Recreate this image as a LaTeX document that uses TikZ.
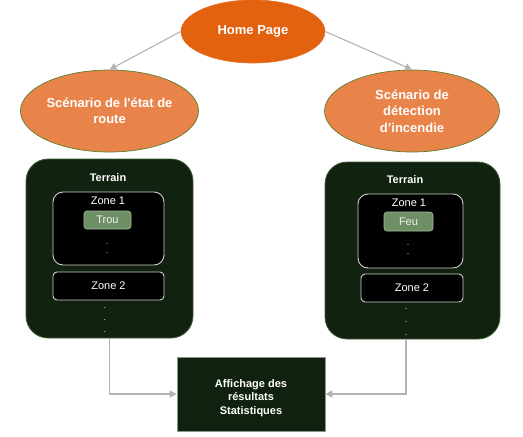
\documentclass[tikz,border=0pt]{standalone}
\usepackage{fontspec}
\setmainfont{Liberation Sans}
\usetikzlibrary{shapes.geometric,arrows.meta}
\definecolor{homeor}{HTML}{E2620F}
\definecolor{sideor}{HTML}{E8834A}
\definecolor{sideborder}{HTML}{5E7F2E}
\definecolor{terrfill}{HTML}{112211}
\definecolor{terrborder}{HTML}{3F6030}
\definecolor{zoneborder}{HTML}{CFCFCF}
\definecolor{tagfill}{HTML}{6E8F65}
\definecolor{tagborder}{HTML}{A3BB9B}
\definecolor{tagtext}{HTML}{EEF3EC}
\definecolor{linkgrey}{HTML}{B3B3B3}
\definecolor{resfill}{HTML}{10220F}
\definecolor{resborder}{HTML}{8A968A}
\tikzset{
  homeshape/.style={ellipse, fill=homeor, draw=homeor!90!white, line width=0.6pt, inner sep=0pt,
    minimum width=144pt, minimum height=63pt, text=white, font=\fontsize{13}{16}\selectfont\bfseries},
  sideshape/.style={ellipse, fill=sideor, draw=sideborder, line width=0.7pt, inner sep=0pt,
    minimum width=175pt, minimum height=82pt, text=white, align=center,
    font=\fontsize{13}{16.5}\selectfont\bfseries},
  terrbox/.style={rectangle, rounded corners=22pt, fill=terrfill, draw=terrborder, line width=0.8pt, inner sep=0pt},
  zonebox/.style={rectangle, fill=black, draw=zoneborder, line width=0.9pt, inner sep=0pt, text=white,
    font=\fontsize{11}{12}\selectfont},
  tagbox/.style={rectangle, rounded corners=3pt, fill=tagfill, draw=tagborder, line width=0.6pt, inner sep=0pt,
    text=tagtext, font=\fontsize{11}{12}\selectfont},
  terrlabel/.style={text=white, font=\fontsize{11}{13}\selectfont\bfseries, inner sep=0pt},
  zonelabel/.style={text=white, font=\fontsize{11}{12}\selectfont, inner sep=0pt},
  dotmark/.style={text=white!85!black, font=\fontsize{9}{9}\selectfont, inner sep=0pt, anchor=base},
  resbox/.style={rectangle, fill=resfill, draw=resborder, line width=0.7pt, inner sep=0pt},
  restext/.style={text=white, align=center, inner sep=0pt, font=\fontsize{11}{13.5}\selectfont\bfseries},
  link/.style={draw=linkgrey, line width=1.1pt, -{Triangle[length=7pt,width=7pt,fill=linkgrey]}}
}
\begin{document}
\begin{tikzpicture}[x=1pt,y=-1pt]
\useasboundingbox (0,0) rectangle (523,437);
% top
\node[homeshape] (home) at (253,31.5) {Home Page};
\node[sideshape] (sl) at (109.5,111) {Scénario de l\textquotesingle état de\\route};
\node[sideshape] (sr) at (412,111) {Scénario de\\détection\\d’incendie};
\draw[link] (home.west) -- (sl.north);
\draw[link] (home.east) -- (sr.north);
% left terrain
\node[terrbox, minimum width=167pt, minimum height=179pt] (tl) at (109.5,248.5) {};
\node[terrlabel] (tlt) at (108,178) {Terrain};
\node[zonebox, rounded corners=10pt, minimum width=111pt, minimum height=73pt] (z1l) at (108.5,228.5) {};
\node[zonelabel] (z1lt) at (108,201) {Zone 1};
\node[tagbox, minimum width=47pt, minimum height=18pt] (trou) at (107.5,220) {Trou};
\node[dotmark] (dl1) at (107,244) {.};
\node[dotmark] (dl2) at (107,253) {.};
\node[zonebox, rounded corners=4pt, minimum width=111pt, minimum height=28pt] (z2l) at (108.5,286) {Zone 2};
\node[dotmark] (dl3) at (105,308) {.};
\node[dotmark] (dl4) at (105,320) {.};
\node[dotmark] (dl5) at (105,332) {.};
% right terrain
\node[terrbox, minimum width=175pt, minimum height=177pt] (tr) at (412.5,250.5) {};
\node[terrlabel] (trt) at (405,180) {Terrain};
\node[zonebox, rounded corners=10pt, minimum width=105pt, minimum height=74pt] (z1r) at (410.5,231) {};
\node[zonelabel] (z1rt) at (409,203) {Zone 1};
\node[tagbox, minimum width=49pt, minimum height=19pt] (feu) at (408.5,221.5) {Feu};
\node[dotmark] (dr1) at (408,245) {.};
\node[dotmark] (dr2) at (408,254) {.};
\node[zonebox, rounded corners=4pt, minimum width=102pt, minimum height=28pt] (z2r) at (412,288) {Zone 2};
\node[dotmark] (dr3) at (406,309) {.};
\node[dotmark] (dr4) at (406,322) {.};
\node[dotmark] (dr5) at (406,335) {.};
% result
\node[resbox, minimum width=148pt, minimum height=74pt] (res) at (251,394) {};
\node[restext] (rest) at (251,398) {Affichage des\\résultats\\Statistiques};
\draw[link] (tl.south) |- (res.west);
\draw[link] ([xshift=-6.5pt]tr.south) |- (res.east);
\end{tikzpicture}
\end{document}
